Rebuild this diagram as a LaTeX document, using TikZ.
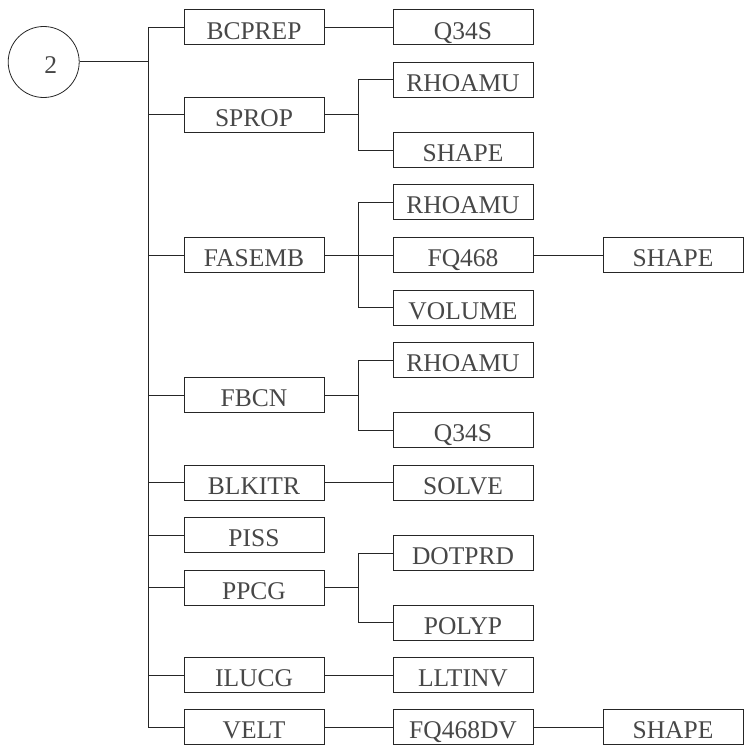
\documentclass[tikz,border=0pt]{standalone}
\usepackage{fontspec}
\setmainfont{Liberation Serif}
\begin{document}
\begin{tikzpicture}[x=1pt,y=1pt,
  link/.style={line width=1pt, draw=black!85},
  box/.style={draw=black!85, line width=1pt, rectangle, minimum width=140pt, minimum height=35pt,
    inner sep=0pt, text height=23.6pt, text depth=0pt, text=black!72,
    font=\fontsize{25.5}{30}\selectfont},
  circ/.style={draw=black!85, line width=0.8pt, circle, minimum size=71pt, inner sep=0pt,
    text height=22.6pt, text depth=0pt, text=black!72, font=\fontsize{25.5}{30}\selectfont}]
\useasboundingbox (0,0) rectangle (745,-749);
% root
\node[circ] (root) at (43.7,-62) {\hspace{14pt}2};
% trunk
\coordinate (ttop) at (148,-27.5);
\coordinate (tbot) at (148,-727);
% level 1
\node[box] (bcprep) at (254,-27.5) {BCPREP};
\node[box] (sprop)  at (254,-115) {SPROP};
\node[box] (fasemb) at (254,-255) {FASEMB};
\node[box] (fbcn)   at (254,-395) {FBCN};
\node[box] (blkitr) at (254,-482.5) {BLKITR};
\node[box] (piss)   at (254,-535) {PISS};
\node[box] (ppcg)   at (254,-587.5) {PPCG};
\node[box] (ilucg)  at (254,-675) {ILUCG};
\node[box] (velt)   at (254,-727) {VELT};
% level 2
\node[box] (q34a)   at (463,-27.5) {Q34S};
\node[box] (rhoa)   at (463,-80) {RHOAMU};
\node[box] (shapea) at (463,-150) {SHAPE};
\node[box] (rhob)   at (463,-202) {RHOAMU};
\node[box] (fq)     at (463,-255) {FQ468};
\node[box] (vol)    at (463,-307.5) {VOLUME};
\node[box] (rhoc)   at (463,-360) {RHOAMU};
\node[box] (q34b)   at (463,-430) {Q34S};
\node[box] (solve)  at (463,-482.5) {SOLVE};
\node[box] (dot)    at (463,-553) {DOTPRD};
\node[box] (poly)   at (463,-622.5) {POLYP};
\node[box] (llt)    at (463,-675) {LLTINV};
\node[box] (fqdv)   at (463,-727) {FQ468DV};
% level 3
\node[box] (shapeb) at (673,-255) {SHAPE};
\node[box] (shapec) at (673,-727) {SHAPE};
% connectors
\draw[link] (ttop) -- (tbot);
\draw[link] (root.east) -- (root.east -| ttop);
\foreach \n in {bcprep,sprop,fasemb,fbcn,blkitr,piss,ppcg,ilucg,velt}
  \draw[link] (\n.west) -- (\n.west -| ttop);
\draw[link] (bcprep.east) -- (q34a.west);
\draw[link] (sprop.east) -- ++(34,0) |- (rhoa.west);
\draw[link] (sprop.east) -- ++(34,0) |- (shapea.west);
\draw[link] (fasemb.east) -- ++(34,0) |- (rhob.west);
\draw[link] (fasemb.east) -- (fq.west);
\draw[link] (fasemb.east) -- ++(34,0) |- (vol.west);
\draw[link] (fq.east) -- (shapeb.west);
\draw[link] (fbcn.east) -- ++(34,0) |- (rhoc.west);
\draw[link] (fbcn.east) -- ++(34,0) |- (q34b.west);
\draw[link] (blkitr.east) -- (solve.west);
\draw[link] (ppcg.east) -- ++(34,0) |- (dot.west);
\draw[link] (ppcg.east) -- ++(34,0) |- (poly.west);
\draw[link] (ilucg.east) -- (llt.west);
\draw[link] (velt.east) -- (fqdv.west);
\draw[link] (fqdv.east) -- (shapec.west);
\end{tikzpicture}
\end{document}
